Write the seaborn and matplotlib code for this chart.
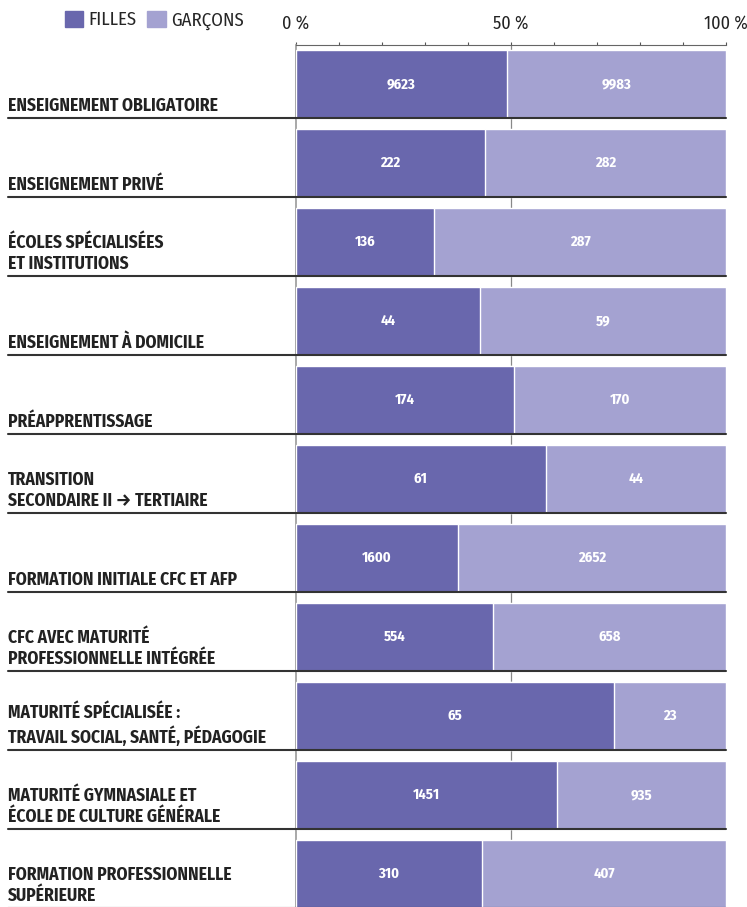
import matplotlib
matplotlib.use("Agg")
import matplotlib.pyplot as plt
import seaborn as sns
import pandas as pd
import numpy as np
from matplotlib.patches import Patch

categories = [
    "ENSEIGNEMENT OBLIGATOIRE",
    "ENSEIGNEMENT PRIVÉ",
    "ÉCOLES SPÉCIALISÉES\nET INSTITUTIONS",
    "ENSEIGNEMENT À DOMICILE",
    "PRÉAPPRENTISSAGE",
    "TRANSITION\nSECONDAIRE II → TERTIAIRE",
    "FORMATION INITIALE CFC ET AFP",
    "CFC AVEC MATURITÉ\nPROFESSIONNELLE INTÉGRÉE",
    "MATURITÉ SPÉCIALISÉE :\nTRAVAIL SOCIAL, SANTÉ, PÉDAGOGIE",
    "MATURITÉ GYMNASIALE ET\nÉCOLE DE CULTURE GÉNÉRALE",
    "FORMATION PROFESSIONNELLE\nSUPÉRIEURE",
]
filles = [9623, 222, 136, 44, 174, 61, 1600, 554, 65, 1451, 310]
garcons = [9983, 282, 287, 59, 170, 44, 2652, 658, 23, 935, 407]
tick_labels = ["0 %", "50 %", "100 %"]

col_f = "#6967ad"
col_g = "#a4a2d1"

sns.set_theme(style="white")
plt.rcParams["font.family"] = ["Fira Sans Condensed", "DejaVu Sans"]

df = pd.DataFrame({"cat": categories, "filles": filles, "garcons": garcons})
df["pct_f"] = df["filles"] / (df["filles"] + df["garcons"]) * 100
df["total"] = 100.0

fig = plt.figure(figsize=(7.47, 9.07), dpi=100)
ax = fig.add_axes([296 / 747, 0, 430 / 747, 1 - 45 / 907])

bar_h = 68 / 79
sns.barplot(data=df, x="total", y="cat", orient="h", color=col_g, width=bar_h,
            saturation=1, ax=ax, zorder=2)
sns.barplot(data=df, x="pct_f", y="cat", orient="h", color=col_f, width=bar_h,
            saturation=1, ax=ax, zorder=3)

ax.set_ylim((907 - 84) / 79, (45 - 84) / 79)
ax.set_xlim(0, 100)
ax.set_ylabel("")
ax.set_xlabel("")
ax.set_yticks([])

# axe du haut
ax.xaxis.tick_top()
ax.set_xticks([0, 50, 100])
ax.set_xticklabels(tick_labels, fontsize=13, color="#222222")
ax.set_xticks(np.arange(0, 101, 10), minor=True)
ax.tick_params(axis="x", which="both", direction="out", length=2.5, width=0.8,
               color="#555555", pad=6.5, top=True, bottom=False)
for s in ["right", "bottom"]:
    ax.spines[s].set_visible(False)
ax.spines["top"].set_color("#666666")
ax.spines["top"].set_linewidth(0.8)
ax.spines["left"].set_color("#999999")
ax.spines["left"].set_linewidth(1.2)
ax.axvline(50, color="#888888", lw=0.9, zorder=1)

x_left = (8 - 296) / 430 * 100
for i, row in df.iterrows():
    yb = i + bar_h / 2
    ax.plot([x_left, 100], [yb, yb], color="#333333", lw=1.5, clip_on=False, zorder=4)
    ax.annotate(row["cat"], xy=(x_left, yb), xytext=(0, 2.5), textcoords="offset points",
                ha="left", va="bottom", fontsize=12.6, fontweight="bold",
                color="#222222", linespacing=1.22, annotation_clip=False)
    ax.text(row["pct_f"] / 2, i, f"{row['filles']}", ha="center", va="center",
            color="white", fontsize=10.5, fontweight="bold", zorder=5)
    ax.text(row["pct_f"] + (100 - row["pct_f"]) / 2, i, f"{row['garcons']}",
            ha="center", va="center", color="white", fontsize=10.5,
            fontweight="bold", zorder=5)

handles = [Patch(color=col_f), Patch(color=col_g)]
fig.legend(handles, ["FILLES", "GARÇONS"], loc="upper left",
           bbox_to_anchor=(57 / 747, 1 - 3 / 907), ncol=2, frameon=False,
           handlelength=1.0, handleheight=1.0, handletextpad=0.25,
           columnspacing=0.6, fontsize=13.5, borderaxespad=0)

fig.savefig("out.png", dpi=100)
